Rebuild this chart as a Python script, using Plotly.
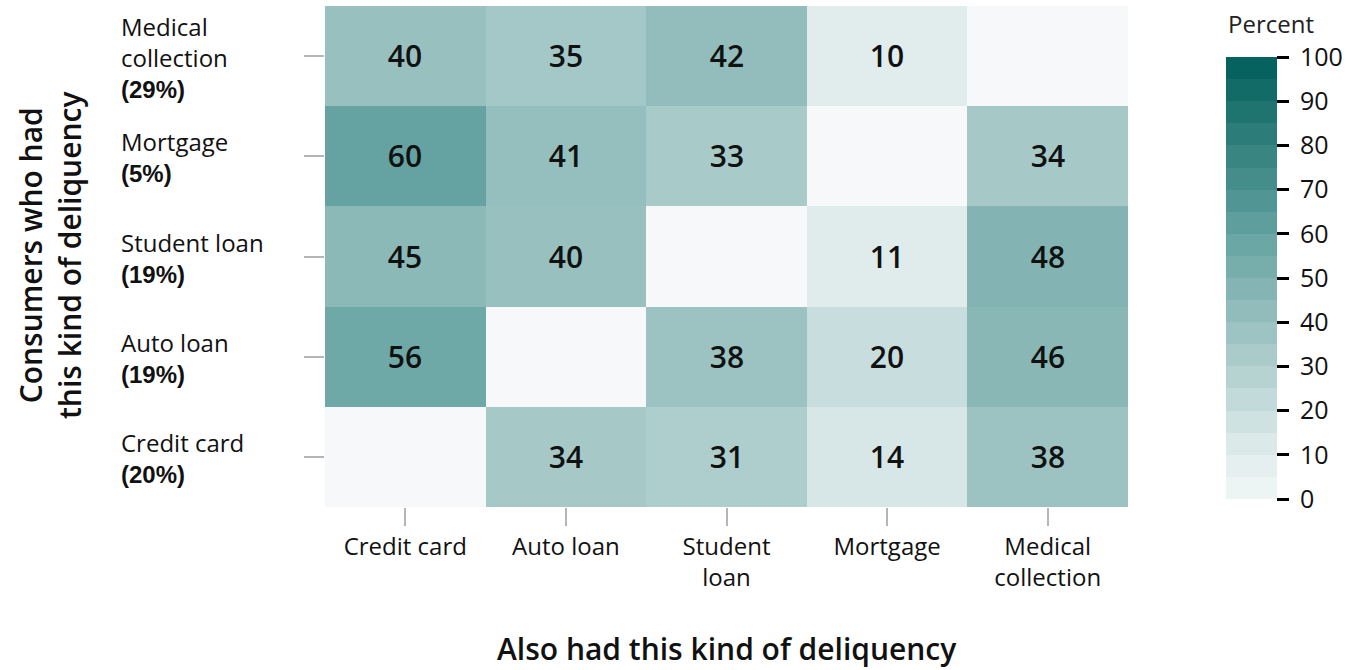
import plotly.graph_objects as go

# columns: "also had this kind", rows: "consumers who had this kind" (bottom to top)
x_cats = ['Credit card', 'Auto loan', 'Student loan', 'Mortgage', 'Medical collection']
x_ticktext = ['Credit card', 'Auto loan', 'Student<br>loan', 'Mortgage', 'Medical<br>collection']
y_cats = ['Credit card', 'Auto loan', 'Student loan', 'Mortgage', 'Medical collection']
y_labels = ['Credit card', 'Auto loan', 'Student loan', 'Mortgage', 'Medical<br>collection']
y_shares = ['20%', '19%', '19%', '5%', '29%']

row_credit_card = [None, 34, 31, 14, 38]
row_auto_loan = [56, None, 38, 20, 46]
row_student_loan = [45, 40, None, 11, 48]
row_mortgage = [60, 41, 33, None, 34]
row_medical = [40, 35, 42, 10, None]

z = [row_credit_card, row_auto_loan, row_student_loan, row_mortgage, row_medical]
text = [['' if v is None else str(v) for v in row] for row in z]

# colour ramp (value -> colour)
ramp = [(0, (240, 246, 246)), (10, (225, 237, 237)), (40, (151, 192, 191)),
        (60, (100, 163, 161)), (100, (0, 94, 90))]


def ramp_color(v):
    for (v0, c0), (v1, c1) in zip(ramp[:-1], ramp[1:]):
        if v <= v1:
            t = (v - v0) / (v1 - v0)
            c = [round(a + (b - a) * t) for a, b in zip(c0, c1)]
            return 'rgb(%d,%d,%d)' % tuple(c)
    return 'rgb(%d,%d,%d)' % ramp[-1][1]


cont_scale = [[v / 100, 'rgb(%d,%d,%d)' % c] for v, c in ramp]

# stepped scale just for the legend bar
step_scale = []
for i in range(20):
    c = ramp_color(i * 5 + 2.5)
    step_scale.append([i / 20, c])
    step_scale.append([(i + 1) / 20, c])

FONT = 'Open Sans'

fig = go.Figure()
fig.add_trace(go.Heatmap(
    x=x_cats, y=y_cats, z=z, text=text, texttemplate='%{text}',
    textfont=dict(family=FONT, size=30, color='#111111', weight=600),
    colorscale=cont_scale, zmin=0, zmax=100, showscale=False, hoverongaps=False,
))

fig.add_trace(go.Scatter(
    x=[None], y=[None], mode='markers', showlegend=False, hoverinfo='skip',
    marker=dict(color=[0], cmin=0, cmax=100, colorscale=step_scale, showscale=True,
                colorbar=dict(
                    thickness=51, len=442 / 501, lenmode='fraction', y=8 / 501, yanchor='bottom',
                    x=1.122, xanchor='left', xpad=0, ypad=0, outlinewidth=0,
                    ticks='outside', ticklen=12, tickwidth=3, tickcolor='black',
                    tickprefix='\u00a0',
                    tickfont=dict(family=FONT, size=25, color='#111'), dtick=10, tick0=0,
                )),
))

annotations = []
for cat, lab, share in zip(y_cats, y_labels, y_shares):
    annotations.append(dict(
        text=lab + '<br><span style="font-family:Liberation Sans"><b>(' + share + ')</b></span>',
        x=(119 - 325) / 803, xref='paper', xanchor='left', align='left',
        y=cat, yref='y', yanchor='middle', showarrow=False,
        font=dict(family=FONT, size=24, color='#111'),
    ))

annotations.append(dict(
    text='Percent', x=(1226 - 325) / 803, xref='paper', xanchor='left',
    y=(507 - 24) / 501, yref='paper', yanchor='middle', showarrow=False,
    font=dict(family=FONT, size=24, color='#222'),
))
annotations.append(dict(
    text='Consumers who had<br>this kind of deliquency', textangle=-90,
    x=(50 - 325) / 803, xref='paper', xanchor='center',
    y=(507 - 255) / 501, yref='paper', yanchor='middle', showarrow=False,
    font=dict(family=FONT, size=30, color='#111', weight=600),
))
annotations.append(dict(
    text='Also had this kind of deliquency',
    x=0.5, xref='paper', xanchor='center',
    y=(507 - 648) / 501, yref='paper', yanchor='middle', showarrow=False,
    font=dict(family=FONT, size=30, color='#111', weight=600),
))

fig.update_layout(
    width=1361, height=670,
    margin=dict(l=325, r=233, t=6, b=163, autoexpand=False),
    plot_bgcolor='#f6f8fa', paper_bgcolor='white',
    annotations=annotations,
)
fig.update_xaxes(tickvals=x_cats, ticktext=x_ticktext, ticks='outside', ticklen=18,
                 tickwidth=1.5, tickcolor='#b5b5b5', showgrid=False, zeroline=False,
                 tickfont=dict(family=FONT, size=24, color='#111'))
fig.update_yaxes(showticklabels=False, ticks='outside', ticklen=20, tickwidth=1.5,
                 tickcolor='#b5b5b5', showgrid=False, zeroline=False)

fig.write_html('out.html', config={'displayModeBar': False},
               post_script="document.body.style.margin='0';")
